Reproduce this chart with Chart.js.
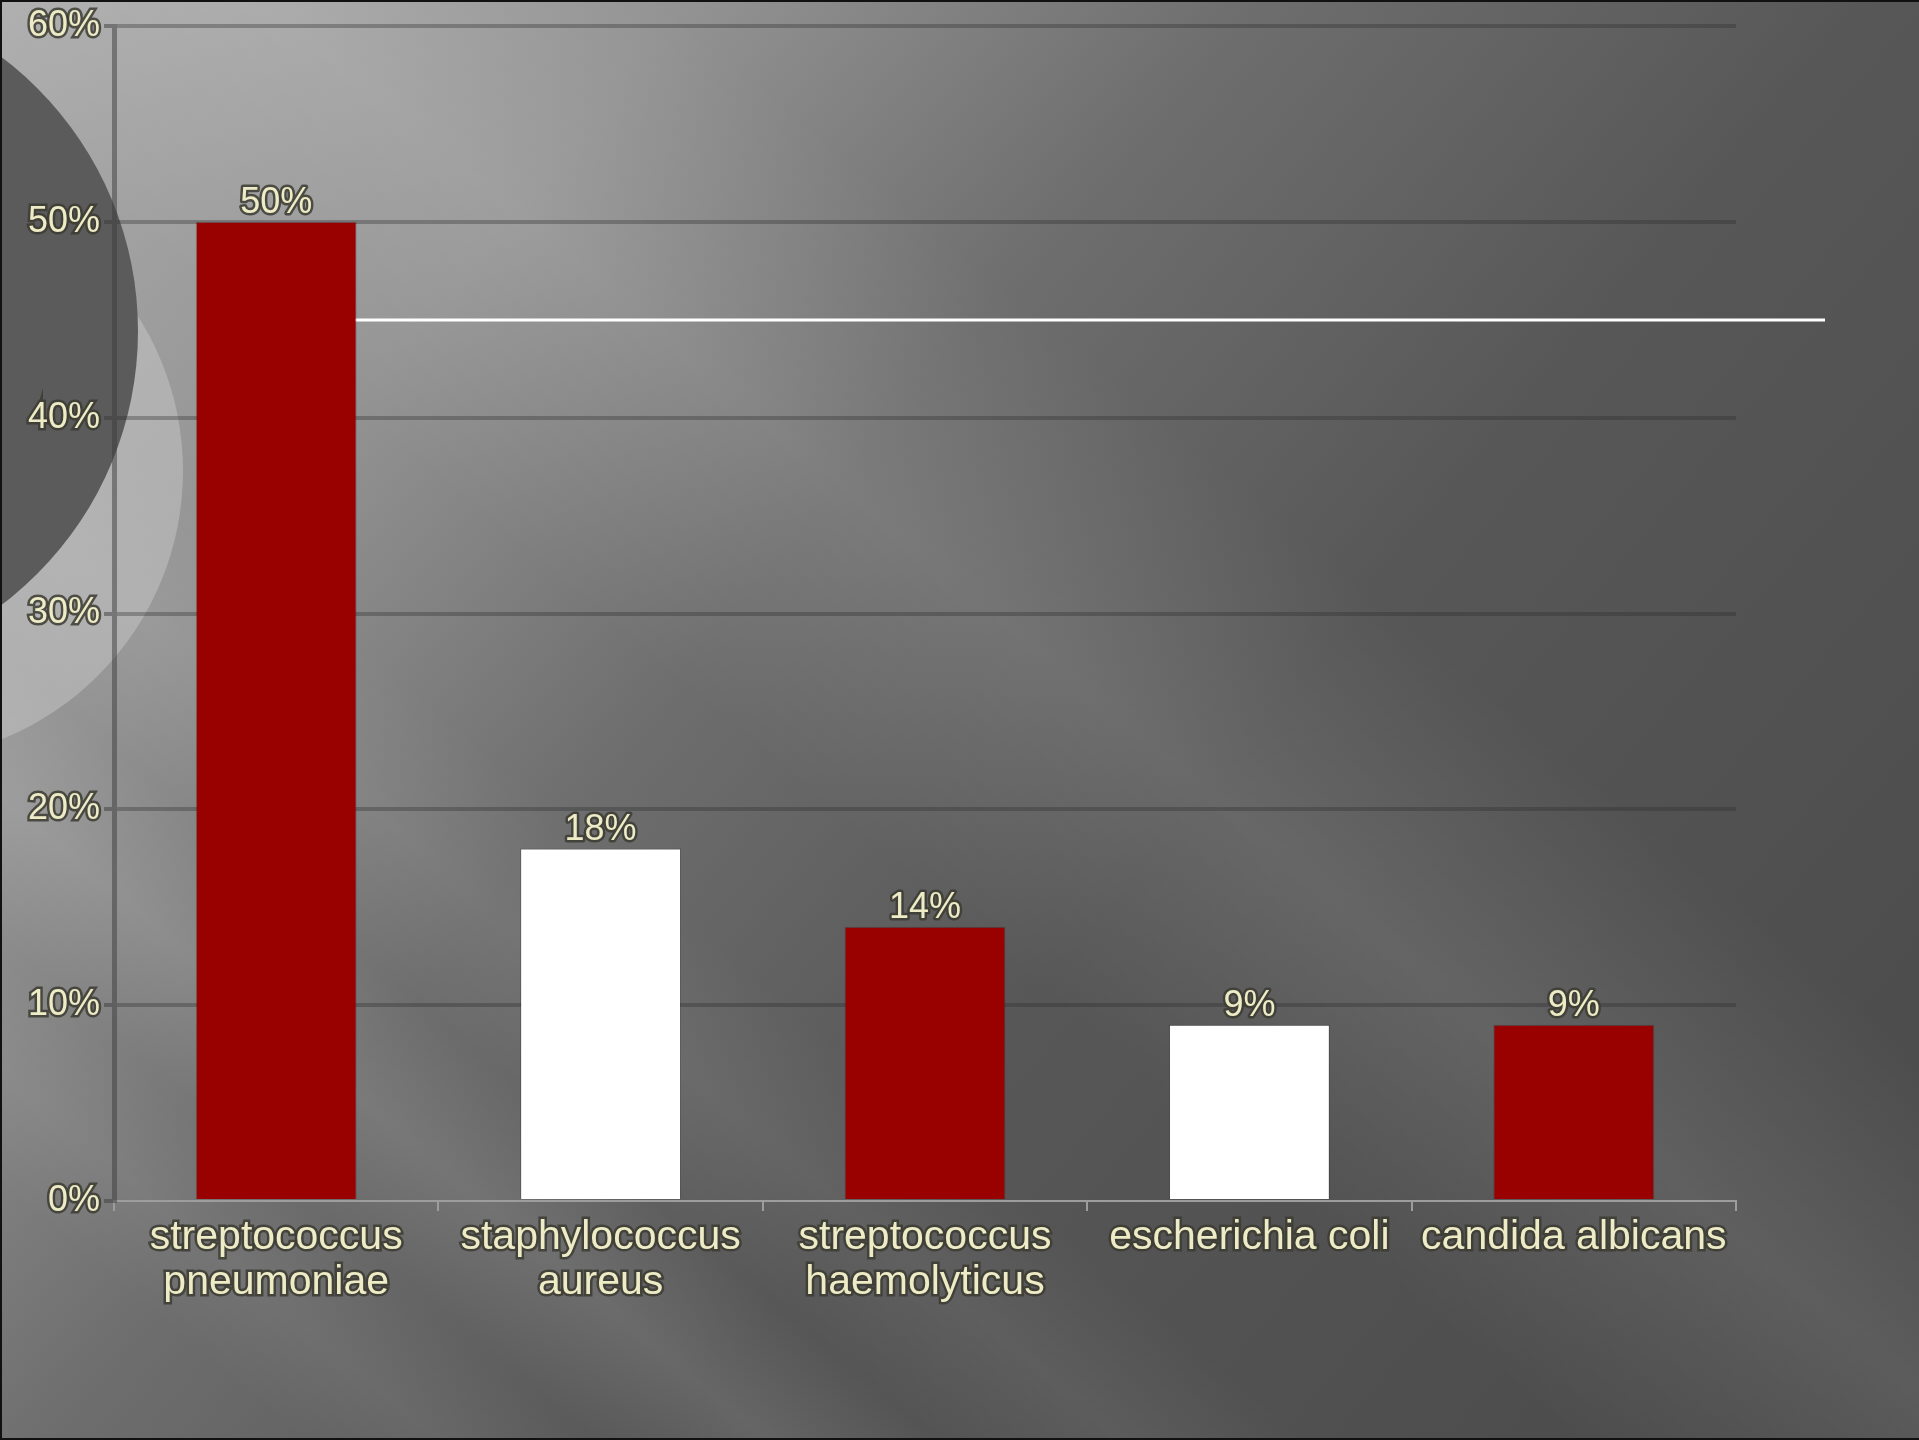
<!DOCTYPE html>
<html>
<head>
<meta charset="utf-8">
<script src="https://cdn.jsdelivr.net/npm/chart.js@4.4.1/dist/chart.umd.min.js"></script>
<style>
  body { margin: 0; background: #4a4a4a; overflow: hidden; }
  #chart { display: block; }
</style>
</head>
<body>
<canvas id="chart" width="1919" height="1440"></canvas>
<script>
// Data
const categories = [
    ['streptococcus', 'pneumoniae'],
    ['staphylococcus', 'aureus'],
    ['streptococcus', 'haemolyticus'],
    'escherichia coli',
    'candida albicans'
];
const shares = [50, 18, 14, 9, 9];
const yTickValues = [0, 10, 20, 30, 40, 50, 60];

const barColors = ['#990000', '#ffffff', '#990000', '#ffffff', '#990000'];
const textColor = '#eeecc6';
const textStroke = 'rgba(60, 60, 52, 0.85)';

// Slide background: grey gradient, diagonal streaks, circles on the left
const slideBackground = {
    id: 'slideBackground',
    beforeDraw(chart) {
        const ctx = chart.ctx;
        const w = chart.width, h = chart.height;
        const ang = 40 * Math.PI / 180;
        ctx.save();

        const dx = Math.cos(ang), dy = Math.sin(ang);
        const len = w * dx + h * dy;
        const base = ctx.createLinearGradient(0, 0, len * dx, len * dy);
        base.addColorStop(0, '#adadad');
        base.addColorStop(0.22, '#939393');
        base.addColorStop(0.4, '#6e6e6e');
        base.addColorStop(0.6, '#575757');
        base.addColorStop(1, '#494949');
        ctx.fillStyle = base;
        ctx.fillRect(0, 0, w, h);

        // soft light streaks running down-right
        const streaks = [
            { s: -170, half: 260, a: 0.10 },
            { s: 380, half: 120, a: 0.06 },
            { s: 610, half: 110, a: 0.09 },
            { s: 820, half: 90, a: 0.05 }
        ];
        ctx.save();
        ctx.rotate(ang);
        streaks.forEach(st => {
            const g = ctx.createLinearGradient(0, st.s - st.half, 0, st.s + st.half);
            g.addColorStop(0, 'rgba(255,255,255,0)');
            g.addColorStop(0.5, 'rgba(255,255,255,' + st.a + ')');
            g.addColorStop(1, 'rgba(255,255,255,0)');
            ctx.fillStyle = g;
            ctx.fillRect(-3000, st.s - st.half, 8000, st.half * 2);
        });
        ctx.restore();

        // circles at the left edge
        ctx.fillStyle = 'rgba(200, 200, 200, 0.5)';
        ctx.beginPath();
        ctx.arc(-106, 471, 289, 0, Math.PI * 2);
        ctx.fill();
        ctx.fillStyle = '#5b5b5b';
        ctx.beginPath();
        ctx.arc(-205, 331, 343, 0, Math.PI * 2);
        ctx.fill();

        // thin dark frame of the photographed slide
        ctx.fillStyle = '#111';
        ctx.fillRect(0, 0, w, 2);
        ctx.fillRect(0, 0, 2, h);
        ctx.fillRect(0, h - 2, w, 2);
        ctx.restore();
    },
    beforeDatasetsDraw(chart) {
        // white rule across the slide
        const ctx = chart.ctx;
        ctx.save();
        ctx.strokeStyle = '#ffffff';
        ctx.lineWidth = 3;
        ctx.beginPath();
        ctx.moveTo(330, 320);
        ctx.lineTo(1825, 320);
        ctx.stroke();
        ctx.restore();
    }
};

const valueLabels = {
    id: 'valueLabels',
    afterDatasetsDraw(chart) {
        const ctx = chart.ctx;
        const meta = chart.getDatasetMeta(0);
        ctx.save();
        ctx.font = '36px "Liberation Sans", Arial, sans-serif';
        ctx.textAlign = 'center';
        ctx.textBaseline = 'alphabetic';
        ctx.lineJoin = 'round';
        meta.data.forEach((bar, i) => {
            const label = shares[i] + '%';
            ctx.lineWidth = 5;
            ctx.strokeStyle = textStroke;
            ctx.strokeText(label, bar.x, bar.y - 9);
            ctx.fillStyle = textColor;
            ctx.fillText(label, bar.x, bar.y - 9);
        });
        ctx.restore();
    }
};

const ctx = document.getElementById('chart').getContext('2d');
new Chart(ctx, {
    type: 'bar',
    data: {
        labels: categories,
        datasets: [{
            data: shares,
            backgroundColor: barColors,
            borderColor: 'rgba(0, 0, 0, 0.22)',
            borderWidth: 1,
            categoryPercentage: 1,
            barPercentage: 0.496
        }]
    },
    options: {
        responsive: false,
        animation: false,
        events: [],
        layout: {
            padding: { top: 26, right: 183, left: 0, bottom: 0 }
        },
        plugins: {
            legend: { display: false },
            tooltip: { enabled: false }
        },
        scales: {
            x: {
                afterFit: scale => { scale.height = 239; },
                grid: {
                    drawOnChartArea: false,
                    drawTicks: true,
                    tickLength: 10,
                    color: '#9d9d9d',
                    lineWidth: 2
                },
                border: { color: '#9d9d9d', width: 2 },
                ticks: {
                    color: textColor,
                    textStrokeColor: textStroke,
                    textStrokeWidth: 5,
                    padding: 4,
                    maxRotation: 0,
                    autoSkip: false,
                    font: { family: '"Liberation Sans", Arial, sans-serif', size: 41, lineHeight: 1.1 }
                }
            },
            y: {
                min: 0,
                max: 60,
                afterFit: scale => { scale.width = 114; },
                afterBuildTicks: scale => {
                    scale.ticks = yTickValues.map(v => ({ value: v }));
                },
                grid: {
                    color: ctx => ctx.tick && ctx.tick.value === 0 ? 'rgba(0,0,0,0)' : 'rgba(45, 45, 45, 0.34)',
                    tickColor: 'rgba(60, 60, 60, 0.5)',
                    lineWidth: 4,
                    tickLength: 10
                },
                border: { color: 'rgba(60, 60, 60, 0.5)', width: 5 },
                ticks: {
                    color: textColor,
                    textStrokeColor: textStroke,
                    textStrokeWidth: 5,
                    padding: 4,
                    callback: v => v + '%',
                    font: { family: '"Liberation Sans", Arial, sans-serif', size: 36 }
                }
            }
        }
    },
    plugins: [slideBackground, valueLabels]
});
</script>
</body>
</html>
